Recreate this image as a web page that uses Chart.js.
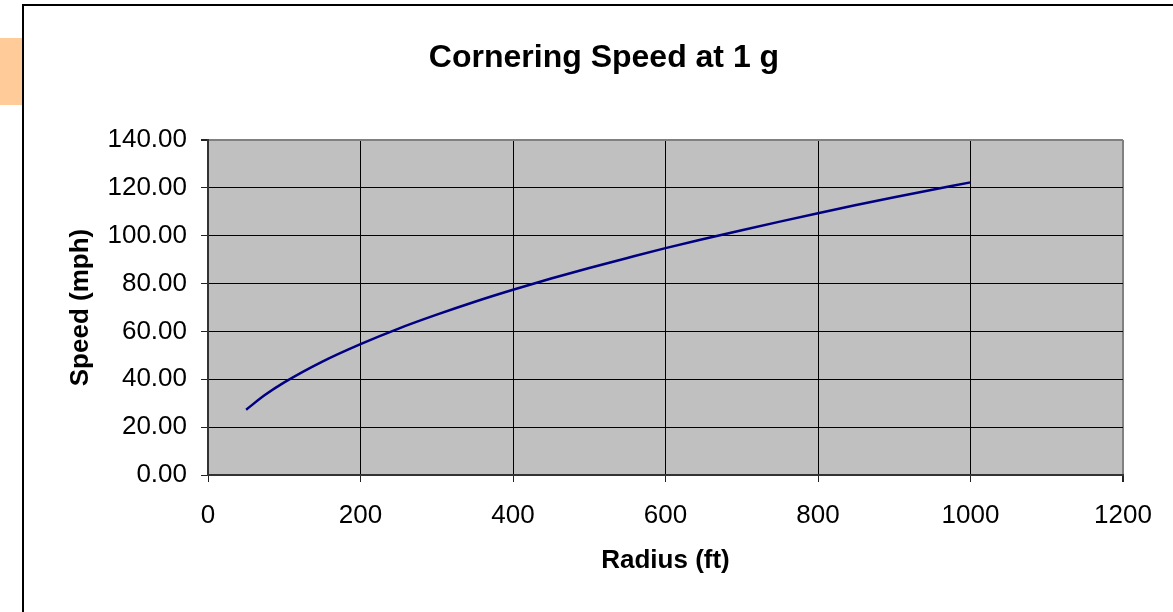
<!DOCTYPE html>
<html>
<head>
<meta charset="utf-8">
<script src="https://cdn.jsdelivr.net/npm/chart.js@4/dist/chart.umd.min.js"></script>
<style>
    html, body { margin: 0; padding: 0; background: #fff; overflow: hidden; }
</style>
</head>
<body>
<canvas id="chart" width="1173" height="612"></canvas>
<script>
"use strict";

// values
const radiusFt = [50, 75, 100, 150, 200, 250, 300, 350, 400, 450, 500,
    550, 600, 650, 700, 750, 800, 850, 900, 950, 1000];
const speedMph = [27.3, 33.5, 38.7, 47.4, 54.7, 61.2, 67.0, 72.4, 77.4, 82.1, 86.5,
    90.7, 94.8, 98.6, 102.3, 105.9, 109.4, 112.8, 116.1, 119.2, 122.3];
const xTicks = [0, 200, 400, 600, 800, 1000, 1200];
const yTicks = [0, 20, 40, 60, 80, 100, 120, 140];

const FONT = "'Liberation Sans', Arial, sans-serif";

// chart frame, orange tab and grey plot background (Excel look)
const excelFrame = {
    id: "excelFrame",
    afterLayout(chart) {
        // title is centred on the outer frame, not on the padded box
        chart.titleBlock.left += 30.5;
        chart.titleBlock.right += 30.5;
    },
    beforeDraw(chart) {
        const { ctx, chartArea } = chart;
        ctx.save();
        ctx.fillStyle = "#ffffff";
        ctx.fillRect(0, 0, chart.width, chart.height);
        ctx.fillStyle = "#ffcc99";
        ctx.fillRect(0, 38, 22, 67);
        ctx.strokeStyle = "#000000";
        ctx.lineWidth = 2;
        ctx.beginPath();
        ctx.moveTo(23, chart.height);
        ctx.lineTo(23, 5);
        ctx.lineTo(chart.width, 5);
        ctx.stroke();
        ctx.fillStyle = "#c0c0c0";
        ctx.fillRect(chartArea.left, chartArea.top,
            chartArea.right - chartArea.left, chartArea.bottom - chartArea.top);
        ctx.restore();
    }
};

const ctx = document.getElementById("chart").getContext("2d");
new Chart(ctx, {
    type: "line",
    data: {
        datasets: [{
            data: radiusFt.map((r, i) => ({ x: r, y: speedMph[i] })),
            borderColor: "#000080",
            borderWidth: 2.5,
            pointRadius: 0,
            cubicInterpolationMode: "monotone",
            fill: false
        }]
    },
    plugins: [excelFrame],
    options: {
        responsive: false,
        devicePixelRatio: 1,
        animation: false,
        layout: { padding: { top: 5, left: 24, right: 50, bottom: 0 } },
        plugins: {
            legend: { display: false },
            tooltip: { enabled: false },
            title: {
                display: true,
                text: "Cornering Speed at 1 g",
                color: "#000",
                font: { family: FONT, size: 32, weight: "bold" },
                padding: { top: 33.8, bottom: 62.8 }
            }
        },
        scales: {
            x: {
                type: "linear",
                min: xTicks[0],
                max: xTicks[xTicks.length - 1],
                afterBuildTicks: (scale) => { scale.ticks = xTicks.map(v => ({ value: v })); },
                afterFit: (scale) => { scale.height = 137; },
                ticks: {
                    color: "#000",
                    font: { family: FONT, size: 26 },
                    padding: 18,
                    maxRotation: 0,
                    callback: (v) => String(v)
                },
                grid: {
                    color: (c) => (c.tick && c.tick.value === 1200 ? "#808080" : "#000"),
                    lineWidth: (c) => (c.tick && c.tick.value === 1200 ? 2 : 1),
                    tickColor: "#222",
                    tickLength: 7
                },
                border: { color: "#333", width: 2 },
                title: {
                    display: true,
                    text: "Radius (ft)",
                    color: "#000",
                    font: { family: FONT, size: 26, weight: "bold" },
                    padding: { top: 0, bottom: 35.4 }
                }
            },
            y: {
                type: "linear",
                min: yTicks[0],
                max: yTicks[yTicks.length - 1],
                afterBuildTicks: (scale) => { scale.ticks = yTicks.map(v => ({ value: v })); },
                afterFit: (scale) => { scale.width = 184; },
                ticks: {
                    color: "#000",
                    font: { family: FONT, size: 26 },
                    padding: 14,
                    callback: (v) => Number(v).toFixed(2)
                },
                grid: {
                    color: (c) => (c.tick && c.tick.value === 140 ? "#808080" : "#000"),
                    lineWidth: (c) => (c.tick && c.tick.value === 140 ? 2 : 1),
                    tickColor: "#222",
                    tickLength: 7
                },
                border: { color: "#333", width: 2 },
                title: {
                    display: true,
                    text: "Speed (mph)",
                    color: "#000",
                    font: { family: FONT, size: 26, weight: "bold" },
                    padding: { top: 41.4, bottom: 0 }
                }
            }
        }
    }
});
</script>
</body>
</html>
